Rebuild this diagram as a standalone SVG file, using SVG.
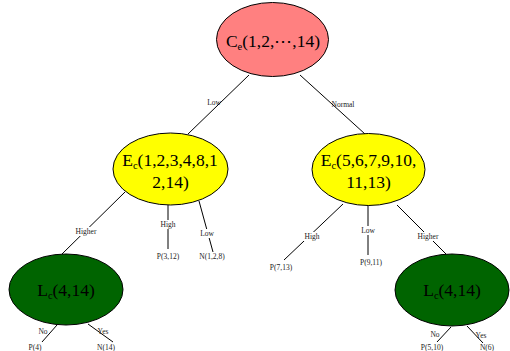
<svg xmlns="http://www.w3.org/2000/svg" width="510" height="351" viewBox="0 0 510 351" font-family="Liberation Serif, DejaVu Serif, serif">
  <style>
    .node ellipse { stroke: #000; stroke-width: 1; }
    .root ellipse { fill: #ff8080; }
    .mid ellipse { fill: #ffff00; }
    .leaf ellipse { fill: #006400; }
    .name { font-size: 17.5px; fill: #000; text-anchor: middle; }
    .sub { font-size: 10.5px; }
    .edges line { stroke: #000; stroke-width: 1; }
    .lbl { font-size: 7.5px; fill: #222; text-anchor: middle; }
    .bg { fill: #fff; }
  </style>
  <rect width="510" height="351" fill="#fff"/>

  <g id="connectors" class="edges">
    <!-- root to children -->
    <line x1="249" y1="75" x2="188" y2="134"/>
    <line x1="300" y1="75" x2="365" y2="134"/>
    <!-- left E branches -->
    <line x1="125" y1="192" x2="62" y2="254"/>
    <line x1="168" y1="205" x2="168" y2="249"/>
    <line x1="199" y1="201" x2="213" y2="252"/>
    <!-- right E branches -->
    <line x1="343" y1="204" x2="284" y2="260"/>
    <line x1="368" y1="205" x2="368" y2="255"/>
    <line x1="397" y1="205" x2="446" y2="254"/>
    <!-- left L branches -->
    <line x1="57" y1="325" x2="42" y2="342"/>
    <line x1="88" y1="324" x2="113" y2="342"/>
    <!-- right L branches -->
    <line x1="451" y1="327" x2="437" y2="342"/>
    <line x1="467" y1="326" x2="483" y2="343"/>
  </g>

  <g id="edge-labels">
    <text class="lbl" x="214" y="105">Low</text>
    <text class="lbl" x="343" y="107">Normal</text>

    <rect class="bg" x="74" y="227" width="24" height="9"/>
    <text class="lbl" x="86" y="234">Higher</text>
    <rect class="bg" x="159" y="220" width="18" height="9"/>
    <text class="lbl" x="168" y="227">High</text>
    <rect class="bg" x="199" y="229" width="17" height="9"/>
    <text class="lbl" x="207" y="236">Low</text>
    <text class="lbl" x="168" y="259">P(3,12)</text>
    <text class="lbl" x="212" y="259">N(1,2,8)</text>

    <rect class="bg" x="303" y="232" width="18" height="9"/>
    <text class="lbl" x="312" y="239">High</text>
    <rect class="bg" x="360" y="226" width="17" height="9"/>
    <text class="lbl" x="368" y="233">Low</text>
    <rect class="bg" x="416" y="232" width="24" height="9"/>
    <text class="lbl" x="428" y="239">Higher</text>
    <text class="lbl" x="281" y="270">P(7,13)</text>
    <text class="lbl" x="371" y="265">P(9,11)</text>

    <text class="lbl" x="43" y="334">No</text>
    <text class="lbl" x="103" y="334">Yes</text>
    <text class="lbl" x="35" y="350">P(4)</text>
    <text class="lbl" x="106" y="350">N(14)</text>

    <text class="lbl" x="435" y="337">No</text>
    <text class="lbl" x="481" y="338">Yes</text>
    <text class="lbl" x="432" y="350">P(5,10)</text>
    <text class="lbl" x="487" y="350">N(6)</text>
  </g>

  <g id="root" class="node root">
    <ellipse cx="272.5" cy="39.5" rx="56" ry="37"/>
    <text class="name" x="273" y="47">C<tspan class="sub" dy="3">e</tspan><tspan dy="-3">(1,2,⋯,14)</tspan></text>
  </g>

  <g id="e-left" class="node mid">
    <ellipse cx="170.5" cy="169" rx="57.5" ry="36"/>
    <text class="name" x="170" y="166">E<tspan class="sub" dy="3">c</tspan><tspan dy="-3">(1,2,3,4,8,1</tspan></text>
    <text class="name" x="170.5" y="188">2,14)</text>
  </g>

  <g id="e-right" class="node mid">
    <ellipse cx="368.5" cy="169.5" rx="56.5" ry="36"/>
    <text class="name" x="368.5" y="166">E<tspan class="sub" dy="3">c</tspan><tspan dy="-3">(5,6,7,9,10,</tspan></text>
    <text class="name" x="368.5" y="188">11,13)</text>
  </g>

  <g id="l-left" class="node leaf">
    <ellipse cx="66" cy="289.5" rx="57" ry="35.5"/>
    <text class="name" x="66" y="296">L<tspan class="sub" dy="3">c</tspan><tspan dy="-3">(4,14)</tspan></text>
  </g>

  <g id="l-right" class="node leaf">
    <ellipse cx="452" cy="290" rx="57" ry="36"/>
    <text class="name" x="452" y="296">L<tspan class="sub" dy="3">c</tspan><tspan dy="-3">(4,14)</tspan></text>
  </g>
</svg>
